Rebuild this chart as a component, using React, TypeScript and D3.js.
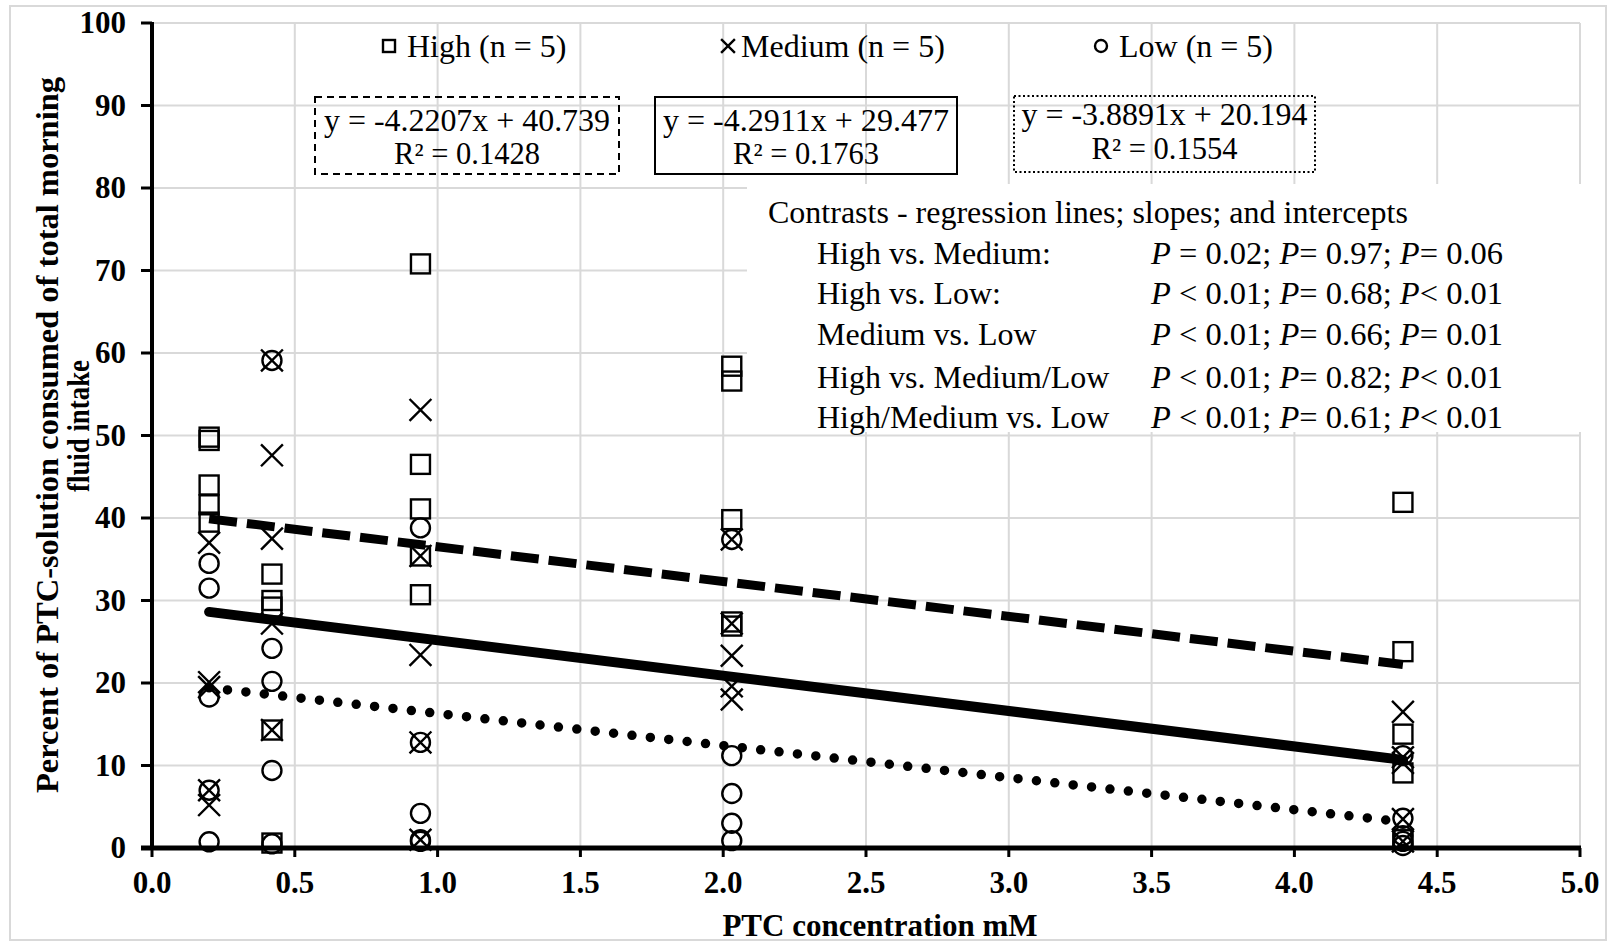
import React from 'react'
import * as d3 from 'd3'

// PTC concentrations (mM) where the animals were tested
const concentrations = [0.2, 0.42, 0.94, 2.03, 4.38]

// percent of PTC solution, five animals per group at each concentration
const highValues = [
  [49.8, 49.4, 44.0, 41.6, 39.5],
  [33.2, 30.0, 29.2, 14.3, 0.6],
  [70.8, 46.5, 41.1, 35.4, 30.7],
  [58.4, 56.6, 39.8, 27.4, 26.9],
  [41.9, 23.8, 13.8, 9.1, 1.0]
]
const mediumValues = [
  [37.0, 20.1, 19.5, 7.0, 5.2],
  [59.1, 47.6, 37.5, 27.2, 14.3],
  [53.1, 35.4, 23.4, 12.8, 1.0],
  [37.4, 27.2, 23.3, 19.6, 18.0],
  [16.5, 11.0, 10.3, 3.5, 0.8]
]
const lowValues = [
  [34.5, 31.5, 18.3, 7.0, 0.75],
  [59.1, 24.2, 20.2, 9.4, 0.5],
  [38.8, 12.8, 4.2, 1.0, 0.8],
  [37.4, 11.2, 6.6, 3.0, 0.9],
  [11.2, 3.6, 1.5, 0.8, 0.3]
]

const groupNames = ['High (n = 5)', 'Medium (n = 5)', 'Low (n = 5)']
const slopes = [-4.2207, -4.2911, -3.8891]
const intercepts = [40.739, 29.477, 20.194]
const rSquared = ['0.1428', '0.1763', '0.1554']

const contrastLabels = [
  'High vs. Medium:',
  'High vs. Low:',
  'Medium vs. Low',
  'High vs. Medium/Low',
  'High/Medium vs. Low'
]
const contrastP = [
  [['=', '0.02'], ['=', '0.97'], ['=', '0.06']],
  [['<', '0.01'], ['=', '0.68'], ['<', '0.01']],
  [['<', '0.01'], ['=', '0.66'], ['=', '0.01']],
  [['<', '0.01'], ['=', '0.82'], ['<', '0.01']],
  [['<', '0.01'], ['=', '0.61'], ['<', '0.01']]
]

const yTicks = d3.range(0, 101, 10)
const xTicks = d3.range(0, 5.01, 0.5)

const W = 1614
const H = 947
const serif = '"Liberation Serif", "Times New Roman", serif'

const x = d3.scaleLinear().domain([0, 5]).range([152, 1580])
const y = d3.scaleLinear().domain([0, 100]).range([848, 23])

function Marker({ kind, cx, cy, s }) {
  if (kind === 0) {
    return <rect x={cx - s} y={cy - s} width={s * 2} height={s * 2} fill="none" stroke="#000" strokeWidth={2.4} />
  }
  if (kind === 1) {
    const a = s * 1.15
    return (
      <path
        d={`M${cx - a},${cy - a}L${cx + a},${cy + a}M${cx - a},${cy + a}L${cx + a},${cy - a}`}
        stroke="#000"
        strokeWidth={2.4}
        fill="none"
      />
    )
  }
  return <circle cx={cx} cy={cy} r={s} fill="none" stroke="#000" strokeWidth={2.4} />
}

export default function App() {
  const groups = [highValues, mediumValues, lowValues]
  const xMin = d3.min(concentrations)
  const xMax = d3.max(concentrations)
  const lineStyles = [
    { strokeWidth: 9, strokeDasharray: '28 10', strokeLinecap: 'butt' },
    { strokeWidth: 10, strokeDasharray: null, strokeLinecap: 'round' },
    { strokeWidth: 9.5, strokeDasharray: '0 18.5', strokeLinecap: 'round' }
  ]
  const line = d3
    .line()
    .x(d => x(d[0]))
    .y(d => y(d[1]))

  const legendX = [389, 728, 1101]
  const legendGap = [18, 13, 18]
  const boxes = [
    { x0: 315, x1: 619, y0: 97, y1: 174, dash: '7 5', l1: 131, l2: 164 },
    { x0: 655, x1: 957, y0: 97, y1: 174, dash: null, l1: 131, l2: 164 },
    { x0: 1014, x1: 1315, y0: 96, y1: 172, dash: '2 2.5', l1: 125, l2: 159 }
  ]
  const rowBase = [264, 304, 345, 388, 428]

  return (
    <svg
      width={W}
      height={H}
      style={{ position: 'absolute', left: 0, top: 0, background: '#fff' }}
      fontFamily={serif}
    >
      <rect x={10} y={6} width={1596} height={934} fill="#fff" stroke="#d9d9d9" strokeWidth={2} />

      {/* grid */}
      {yTicks.map(t => (
        <line key={'gy' + t} x1={x(0)} x2={x(5)} y1={y(t)} y2={y(t)} stroke="#d9d9d9" strokeWidth={2} />
      ))}
      {xTicks.map(t => (
        <line key={'gx' + t} x1={x(t)} x2={x(t)} y1={y(0)} y2={y(100)} stroke="#d9d9d9" strokeWidth={2} />
      ))}

      {/* contrasts panel covers the grid */}
      <rect x={747} y={184} width={836} height={248} fill="#fff" />
      <text x={768} y={223} fontSize={32}>Contrasts - regression lines; slopes; and intercepts</text>
      {contrastLabels.map((lab, i) => (
        <text key={lab} x={817} y={rowBase[i]} fontSize={32}>{lab}</text>
      ))}
      {contrastP.map((row, i) => (
        <text key={'p' + i} x={1151} y={rowBase[i]} fontSize={32.5}>
          {row.map((p, j) => (
            <React.Fragment key={j}>
              <tspan fontStyle="italic">P</tspan>
              <tspan>{(j === 0 ? ' ' : '') + p[0] + ' ' + p[1] + (j < 2 ? '; ' : '')}</tspan>
            </React.Fragment>
          ))}
        </text>
      ))}

      {/* axes */}
      <line x1={x(0)} x2={x(0)} y1={y(0) + 2} y2={y(100) - 1} stroke="#000" strokeWidth={4} />
      <line x1={x(0) - 11} x2={x(5) + 1} y1={y(0)} y2={y(0)} stroke="#000" strokeWidth={5} />
      {yTicks.map(t => (
        <g key={'yt' + t}>
          <line x1={x(0) - 11} x2={x(0)} y1={y(t)} y2={y(t)} stroke="#000" strokeWidth={3} />
          <text x={126} y={y(t) + 10} textAnchor="end" fontSize={31} fontWeight="bold">{t}</text>
        </g>
      ))}
      {xTicks.map(t => (
        <g key={'xt' + t}>
          <line x1={x(t)} x2={x(t)} y1={y(0)} y2={y(0) + 9} stroke="#000" strokeWidth={3} />
          <text x={x(t)} y={893} textAnchor="middle" fontSize={31} fontWeight="bold">{d3.format('.1f')(t)}</text>
        </g>
      ))}

      <text x={880} y={936} textAnchor="middle" fontSize={31} fontWeight="bold">PTC concentration mM</text>
      <text
        transform="translate(58,435) rotate(-90)"
        textAnchor="middle"
        fontSize={31}
        fontWeight="bold"
        textLength={716}
        lengthAdjust="spacingAndGlyphs"
      >
        Percent of  PTC-solution consumed of total morning
      </text>
      <text
        transform="translate(89,426) rotate(-90)"
        textAnchor="middle"
        fontSize={31}
        fontWeight="bold"
        textLength={132}
        lengthAdjust="spacingAndGlyphs"
      >
        fluid intake
      </text>

      {/* regression lines */}
      {slopes.map((b, i) => (
        <path
          key={'rl' + i}
          d={line([xMin, xMax].map(c => [c, intercepts[i] + b * c]))}
          fill="none"
          stroke="#000"
          strokeWidth={lineStyles[i].strokeWidth}
          strokeDasharray={lineStyles[i].strokeDasharray || undefined}
          strokeLinecap={lineStyles[i].strokeLinecap}
        />
      ))}

      {/* points */}
      {groups.map((g, gi) =>
        g.map((vals, ci) =>
          vals.map((v, k) => (
            <Marker key={`${gi}-${ci}-${k}`} kind={gi} cx={x(concentrations[ci])} cy={y(v)} s={9.5} />
          ))
        )
      )}

      {/* legend */}
      {groupNames.map((name, i) => (
        <g key={name}>
          <Marker kind={i} cx={legendX[i]} cy={46} s={6} />
          <text x={legendX[i] + legendGap[i]} y={57} fontSize={32}>{name}</text>
        </g>
      ))}

      {/* equation boxes */}
      {boxes.map((bx, i) => (
        <g key={'bx' + i}>
          <rect
            x={bx.x0}
            y={bx.y0}
            width={bx.x1 - bx.x0}
            height={bx.y1 - bx.y0}
            fill="none"
            stroke="#000"
            strokeWidth={2}
            strokeDasharray={bx.dash || undefined}
          />
          <text
            x={(bx.x0 + bx.x1) / 2}
            y={bx.l1}
            textAnchor="middle"
            fontSize={30.5}
            textLength={286}
            lengthAdjust="spacingAndGlyphs"
          >
            {`y = ${slopes[i]}x + ${intercepts[i]}`}
          </text>
          <text x={(bx.x0 + bx.x1) / 2} y={bx.l2} textAnchor="middle" fontSize={30.5}>
            {`R² = ${rSquared[i]}`}
          </text>
        </g>
      ))}
    </svg>
  )
}
